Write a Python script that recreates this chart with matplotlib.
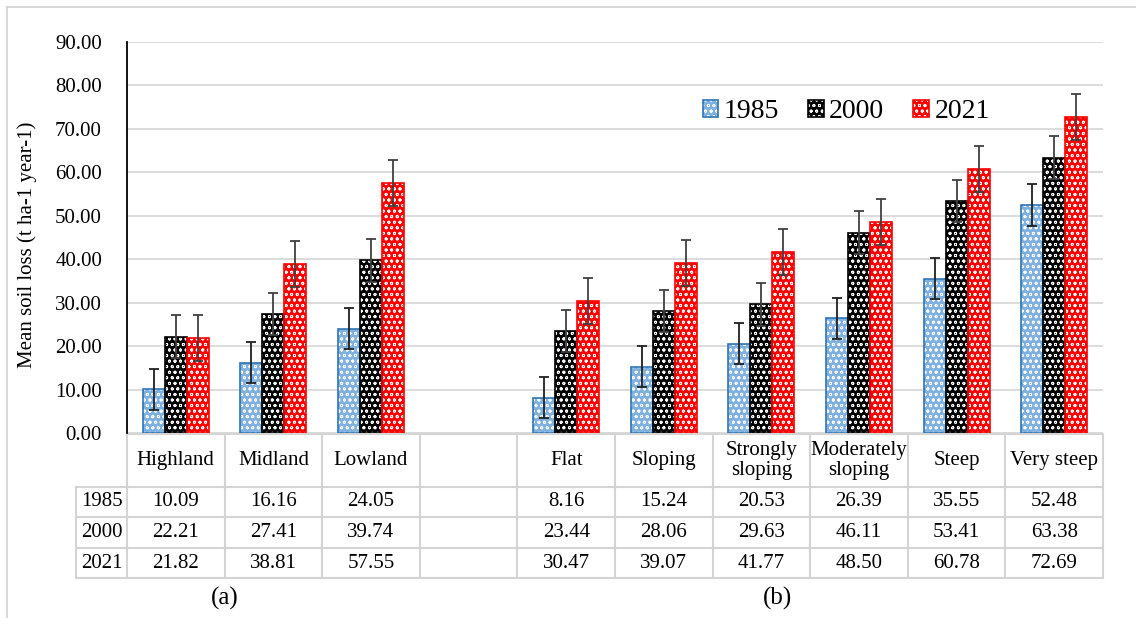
import numpy as np
import matplotlib
matplotlib.use("Agg")
import matplotlib.pyplot as plt
from matplotlib.lines import Line2D
from matplotlib.patches import Patch

# data (gap column between the two groups)
categories = ["Highland", "Midland", "Lowland", "", "Flat", "Sloping",
              "Strongly\nsloping", "Moderately\nsloping", "Steep", "Very steep"]
years = ["1985", "2000", "2021"]
v1985 = [10.09, 16.16, 24.05, np.nan, 8.16, 15.24, 20.53, 26.39, 35.55, 52.48]
v2000 = [22.21, 27.41, 39.74, np.nan, 23.44, 28.06, 29.63, 46.11, 53.41, 63.38]
v2021 = [21.82, 38.81, 57.55, np.nan, 30.47, 39.07, 41.77, 48.50, 60.78, 72.69]
errs = [4.75, 4.9, 5.3]
panel_labels = ["(a)", "(b)"]

fills = ["#7eb0e0", "#000000", "#ff0000"]
edges = ["#2e75b6", "#000000", "#ff0000"]
ecols = ["#202020", "#404040", "#404040"]
gridc = "#d9d9d9"
tablec = "#d4d4d4"

plt.rcParams['font.family'] = ['Liberation Serif', 'DejaVu Serif']
plt.rcParams['hatch.color'] = 'white'
plt.rcParams['hatch.linewidth'] = 0.6

W, H = 1136, 618
fig = plt.figure(figsize=(W / 100, H / 100), dpi=100)
ax = fig.add_axes([127 / W, 1 - 433 / H, 976 / W, 391 / H])

x = np.arange(len(categories))
w = 0.225
series = [v1985, v2000, v2021]
handles = []
for i, vals in enumerate(series):
    pos = x + (i - 1) * w
    ax.bar(pos, vals, w, color=fills[i], hatch='ooo', zorder=2)
    ax.bar(pos, vals, w, fill=False, edgecolor=edges[i], lw=1.2, zorder=3)
    ax.errorbar(pos, vals, yerr=errs[i], fmt='none', ecolor=ecols[i],
                elinewidth=1.3, capsize=3.3, capthick=1.3, zorder=4)
    handles.append((Patch(facecolor=fills[i], hatch='ooo'),
                    Patch(fill=False, edgecolor=edges[i], lw=1.2)))

ax.set_xlim(-0.5, len(categories) - 0.5)
ax.set_ylim(0, 90)
ax.set_yticks(np.arange(0, 91, 10))
ax.set_yticklabels([f"{t:.2f}" for t in np.arange(0, 91, 10)], fontsize=15)
ax.set_xticks([])
ax.tick_params(axis='y', length=0, pad=18)
ax.yaxis.grid(True, color=gridc, lw=1.3)
ax.set_axisbelow(True)
for s in ['top', 'right', 'bottom']:
    ax.spines[s].set_visible(False)
ax.spines['left'].set_color('black')
ax.spines['left'].set_linewidth(1.3)

ax.legend(handles, years, ncol=3, loc='center', bbox_to_anchor=(0.737, 0.821),
          frameon=False, fontsize=20, handlelength=0.55, handleheight=0.55,
          handletextpad=0.2, columnspacing=1.05, borderaxespad=0)

# data table under the axis
tr = ax.get_xaxis_transform()
def fy(py):
    return (433 - py) / 391

row_lines = [fy(434), fy(487), fy(517), fy(548), fy(578)]
left_col = -0.5 - 51 / 97.6
right = len(categories) - 0.5
kw = dict(color=tablec, lw=1.5, transform=tr, clip_on=False)
ax.plot([-0.5, right], [row_lines[0]] * 2, **kw)
for yy in row_lines[1:]:
    ax.plot([left_col, right], [yy] * 2, **kw)
for k in range(len(categories) + 1):
    ax.plot([k - 0.5] * 2, [row_lines[0], row_lines[-1]], **kw)
ax.plot([left_col] * 2, [row_lines[1], row_lines[-1]], **kw)

for k, c in enumerate(categories):
    ax.text(k, (row_lines[0] + row_lines[1]) / 2, c, transform=tr, ha='center',
            va='center', fontsize=15, linespacing=1.05)
for r, (yr, vals) in enumerate(zip(years, series)):
    ym = (row_lines[r + 1] + row_lines[r + 2]) / 2
    ax.text((left_col - 0.5) / 2, ym, yr, transform=tr, ha='center',
            va='center', fontsize=15)
    for k, v in enumerate(vals):
        if not np.isnan(v):
            ax.text(k, ym, f"{v:.2f}", transform=tr, ha='center',
                    va='center', fontsize=15)

ax.text(0.5, fy(598), panel_labels[0], transform=tr, ha='center', va='center', fontsize=18)
ax.text(6.16, fy(598), panel_labels[1], transform=tr, ha='center', va='center', fontsize=18)

fig.text(27 / W, 1 - 245 / H, "Mean soil loss (t ha-1 year-1)", rotation=90,
         ha='center', va='center', fontsize=15)

# thin outer frame
fig.add_artist(Line2D([7 / W, 7 / W], [0, 1 - 7 / H], color=tablec, lw=1.3))
fig.add_artist(Line2D([7 / W, 1], [1 - 7 / H, 1 - 7 / H], color=tablec, lw=1.3))

fig.savefig("out.png", dpi=100)
